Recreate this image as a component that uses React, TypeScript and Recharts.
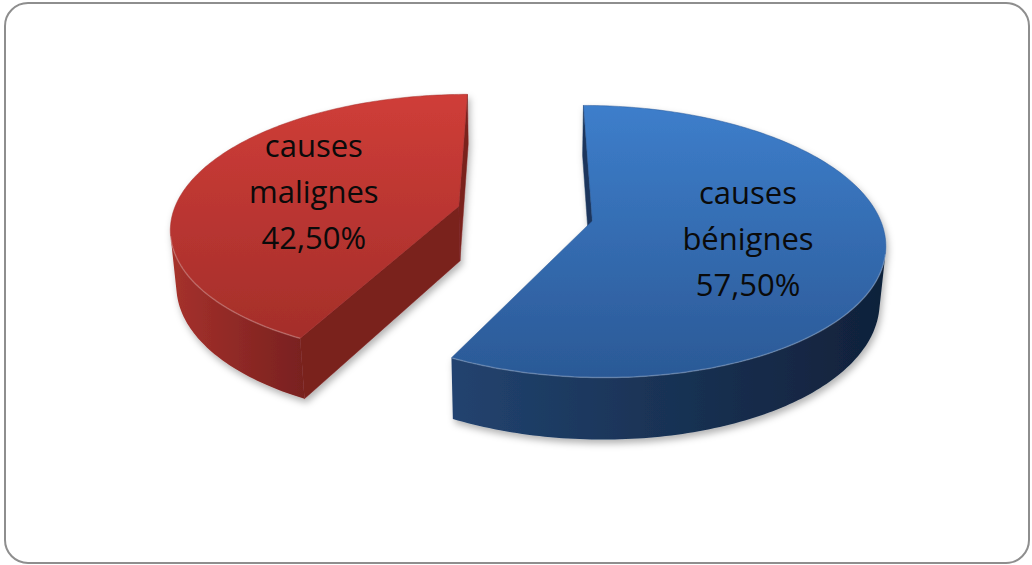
import React from 'react';
import { PieChart, Pie } from 'recharts';

// Chart data
const categories = ['causes bénignes', 'causes malignes'];
const shares = [57.5, 42.5];

// Colours per slice: [top face light, top face dark]
const topColors = [
  ['#3d7ecb', '#2b5996'],
  ['#cf3d38', '#a42e2a'],
];
// Outer wall: [left (lit) end, right (shaded) end]
const wallColors = [
  ['#22436f', '#10213a'],
  ['#a6312c', '#78211f'],
];
// Flat cut faces of each wedge
const cutColors = ['#1b365c', '#7a201e'];

const data = categories.map((name, i) => ({ name, value: shares[i] }));

// 3D view settings (radius units)
const CX = 525;
const CY = 213.5;
const RADIUS = 286;
const TILT = (27.2 * Math.PI) / 180;
const PERSPECTIVE = 0.169;
const THICKNESS = 0.22;
const EXPLODE = 0.24;
const LABEL_RADIUS = 0.54;
const DEG = Math.PI / 180;
const SIN_T = Math.sin(TILT);
const COS_T = Math.cos(TILT);
const EYE = [0, -COS_T / PERSPECTIVE, SIN_T / PERSPECTIVE];

type P3 = [number, number, number];

function project(cx: number, cy: number, r: number, p: P3): [number, number] {
  const [x, y, z] = p;
  const f = 1 + PERSPECTIVE * (y * COS_T - z * SIN_T);
  return [cx + (r * x) / f, cy - (r * (y * SIN_T + z * COS_T)) / f];
}

function facesEye(n: [number, number], p: P3) {
  return n[0] * (EYE[0] - p[0]) + n[1] * (EYE[1] - p[1]) > 0;
}

const fmt = (v: number) => v.toFixed(2).replace('.', ',') + '%';

const pts = (list: [number, number][]) => list.map((p) => p[0].toFixed(2) + ',' + p[1].toFixed(2)).join(' ');
const pathOf = (list: [number, number][]) =>
  list.map((p, i) => (i === 0 ? 'M' : 'L') + p[0].toFixed(2) + ',' + p[1].toFixed(2)).join(' ') + ' Z';

function Slice3D(props: any) {
  const { cx, cy, outerRadius, startAngle, endAngle } = props;
  const name = props.name ?? props.payload?.name;
  let idx = categories.indexOf(name);
  if (idx < 0) idx = props.index ?? 0;

  const r = outerRadius;
  const mid = ((startAngle + endAngle) / 2) * DEG;
  const ox = EXPLODE * Math.cos(mid);
  const oy = EXPLODE * Math.sin(mid);
  const a0 = Math.min(startAngle, endAngle);
  const a1 = Math.max(startAngle, endAngle);
  const steps = Math.max(2, Math.ceil(a1 - a0));

  const angles: number[] = [];
  for (let i = 0; i <= steps; i++) angles.push(a0 + ((a1 - a0) * i) / steps);

  const rim = (deg: number, z: number): P3 => [ox + Math.cos(deg * DEG), oy + Math.sin(deg * DEG), z];
  const P = (p: P3) => project(cx, cy, r, p);

  const topRim = angles.map((a) => P(rim(a, 0)));
  const botRim = angles.map((a) => P(rim(a, -THICKNESS)));
  const cTop = P([ox, oy, 0]);
  const cBot = P([ox, oy, -THICKNESS]);

  // which segments of the curved wall face the viewer
  const vis: boolean[] = [];
  for (let i = 0; i < steps; i++) {
    const am = (angles[i] + angles[i + 1]) / 2;
    const n: [number, number] = [Math.cos(am * DEG), Math.sin(am * DEG)];
    vis.push(facesEye(n, rim(am, -THICKNESS / 2)));
  }

  // group contiguous visible segments into runs
  const runs: [number, number][] = [];
  let s = -1;
  for (let i = 0; i <= steps; i++) {
    const v = i < steps && vis[i];
    if (v && s < 0) s = i;
    if (!v && s >= 0) {
      runs.push([s, i]);
      s = -1;
    }
  }

  const gid = 'topGrad' + idx;
  const wid = 'wallGrad' + idx;
  const fid = 'sliceShadow' + idx;

  let wx0 = Infinity;
  let wx1 = -Infinity;
  runs.forEach(([i0, i1]) => {
    for (let k = i0; k <= i1; k++) {
      wx0 = Math.min(wx0, topRim[k][0], botRim[k][0]);
      wx1 = Math.max(wx1, topRim[k][0], botRim[k][0]);
    }
  });

  const walls = runs.map(([i0, i1], k) => {
    const outline = [...topRim.slice(i0, i1 + 1), ...botRim.slice(i0, i1 + 1).reverse()];
    return <path key={'w' + k} d={pathOf(outline)} fill={`url(#${wid})`} stroke="none" />;
  });

  // flat cut faces
  const cuts: React.ReactNode[] = [];
  const cutAt = (deg: number, n: [number, number], key: string, k: number) => {
    const m: P3 = [ox + 0.5 * Math.cos(deg * DEG), oy + 0.5 * Math.sin(deg * DEG), -THICKNESS / 2];
    if (!facesEye(n, m)) return;
    cuts.push(
      <path
        key={key}
        d={pathOf([cTop, topRim[k], botRim[k], cBot])}
        fill={cutColors[idx]}
        stroke={cutColors[idx]}
        strokeWidth={0.5}
      />
    );
  };
  cutAt(a0, [Math.sin(a0 * DEG), -Math.cos(a0 * DEG)], 'c0', 0);
  cutAt(a1, [-Math.sin(a1 * DEG), Math.cos(a1 * DEG)], 'c1', steps);

  const topPath = pathOf([cTop, ...topRim]);

  // thin light edge where the top meets the wall
  const highlights = runs.map(([i0, i1], k) => (
    <polyline
      key={'h' + k}
      points={pts(topRim.slice(i0, i1 + 1))}
      fill="none"
      stroke="#ffffff"
      strokeOpacity={0.22}
      strokeWidth={1.5}
    />
  ));

  // label on the top face
  const lp = P([ox + LABEL_RADIUS * Math.cos(mid), oy + LABEL_RADIUS * Math.sin(mid), 0]);
  const lines = [...String(name).split(' '), fmt(shares[idx])];
  const lineH = 46;
  const firstBase = lp[1] + 12.5 - lineH * ((lines.length - 1) / 2);

  return (
    <g>
      <defs>
        <linearGradient id={gid} x1="0" y1="0" x2="0" y2="1">
          <stop offset="0%" stopColor={topColors[idx][0]} />
          <stop offset="100%" stopColor={topColors[idx][1]} />
        </linearGradient>
        <linearGradient
          id={wid}
          gradientUnits="userSpaceOnUse"
          x1={isFinite(wx0) ? wx0 : 0}
          y1={0}
          x2={isFinite(wx1) ? wx1 : 1}
          y2={0}
        >
          <stop offset="0%" stopColor={wallColors[idx][0]} />
          <stop offset="100%" stopColor={wallColors[idx][1]} />
        </linearGradient>
        <filter id={fid} x="-10%" y="-10%" width="125%" height="130%">
          <feDropShadow dx="2" dy="4" stdDeviation="3.5" floodColor="#000" floodOpacity="0.3" />
        </filter>
      </defs>
      <g filter={`url(#${fid})`}>
        {walls}
        {cuts}
        <path d={topPath} fill={`url(#${gid})`} stroke={topColors[idx][1]} strokeWidth={0.5} />
      </g>
      {highlights}
      <text
        x={lp[0]}
        y={firstBase}
        textAnchor="middle"
        fontFamily="'Open Sans', sans-serif"
        fontSize={31}
        fill="#0a0a0a"
      >
        {lines.map((ln, i) => (
          <tspan key={i} x={lp[0]} y={firstBase + i * lineH}>
            {ln}
          </tspan>
        ))}
      </text>
    </g>
  );
}

export default function App() {
  return (
    <div style={{ position: 'absolute', left: 0, top: 0, width: 1032, height: 565, background: '#ffffff' }}>
      <div
        style={{
          position: 'absolute',
          left: 4,
          top: 2,
          width: 1026,
          height: 562,
          boxSizing: 'border-box',
          border: '2px solid #8e8e8e',
          borderRadius: 24,
        }}
      />
      <div style={{ position: 'absolute', left: 0, top: 0 }}>
        <PieChart width={1032} height={565} margin={{ top: 0, right: 0, bottom: 0, left: 0 }}>
          <Pie
            data={data}
            dataKey="value"
            nameKey="name"
            cx={CX}
            cy={CY}
            outerRadius={RADIUS}
            startAngle={90}
            endAngle={-270}
            stroke="none"
            label={false}
            labelLine={false}
            isAnimationActive={false}
            shape={Slice3D}
          />
        </PieChart>
      </div>
    </div>
  );
}
